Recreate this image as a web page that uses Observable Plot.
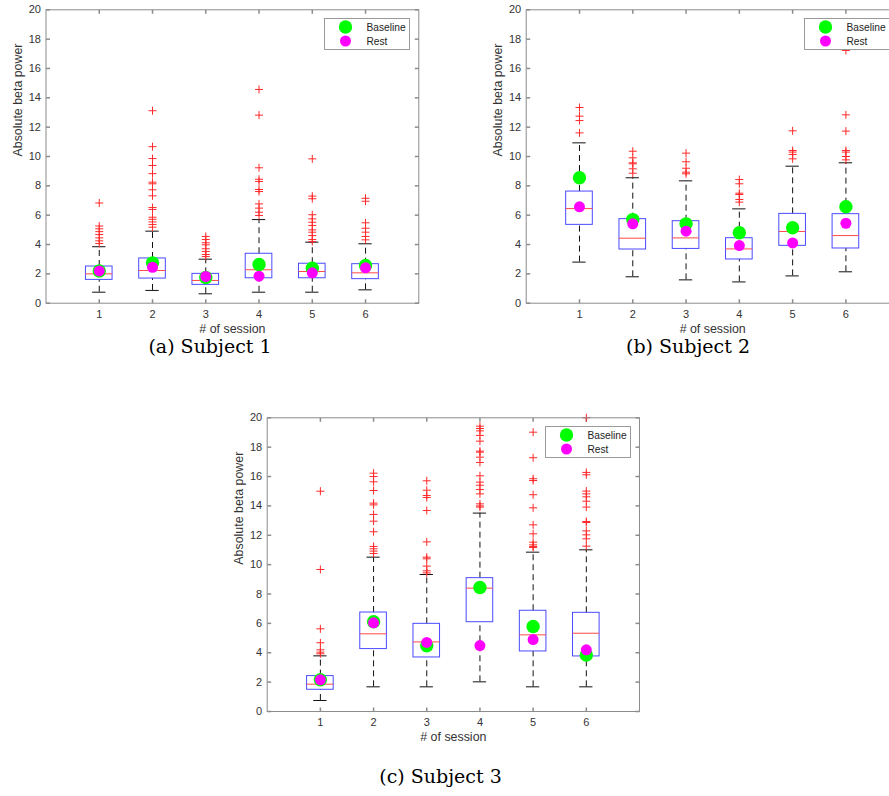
<!DOCTYPE html>
<html>
<head>
<meta charset="utf-8">
<script src="https://cdn.jsdelivr.net/npm/d3@7"></script>
<script src="https://cdn.jsdelivr.net/npm/@observablehq/plot@0.6"></script>
<style>
  html, body { margin: 0; padding: 0; background: #fff; overflow: hidden; }
  #page { position: relative; width: 889px; height: 796px; overflow: hidden; }
  .panel { position: absolute; width: 440px; height: 340px; }
  .panel svg { max-width: none !important; display: block; }
  .caption { position: absolute; font-family: "DejaVu Serif", serif; font-size: 19px; color: #000; white-space: nowrap; transform: translate(-50%, -50%); }
  .legend { position: absolute; width: 84px; height: 30px; border: 1px solid #9a9a9a; background: #fff; }
</style>
</head>
<body>
<div id="page"></div>
<script>
// ---------- data ----------
const sessions = [1, 2, 3, 4, 5, 6];
const yTicks = [0, 2, 4, 6, 8, 10, 12, 14, 16, 18, 20];
const legendLabels = ["Baseline", "Rest"];
const xLabel = "# of session";
const yLabel = "Absolute beta power";

// Subject 1
const s1Q1 = [1.59, 1.68, 1.25, 1.70, 1.70, 1.64];
const s1Median = [2.00, 2.23, 1.55, 2.28, 2.16, 2.07];
const s1Q3 = [2.50, 3.05, 2.00, 3.37, 2.69, 2.66];
const s1WhiskerLow = [0.75, 0.87, 0.64, 0.75, 0.75, 0.91];
const s1WhiskerHigh = [3.85, 4.91, 3.00, 5.70, 4.16, 4.05];
const s1Outliers = [
  [6.83, 5.26, 5.07, 4.88, 4.68, 4.45, 4.25, 4.07],
  [13.12, 10.67, 9.86, 9.39, 8.83, 8.25, 8.14, 7.73, 7.32, 6.52, 6.39, 5.86, 5.72, 5.54, 5.36, 5.18],
  [4.55, 4.34, 4.12, 3.98, 3.71, 3.52, 3.32, 3.18],
  [14.57, 12.82, 9.23, 8.45, 8.30, 7.75, 7.61, 6.77, 6.48, 6.20, 5.98],
  [9.84, 7.30, 7.12, 6.03, 5.75, 5.52, 5.30, 5.00, 4.84, 4.61, 4.34, 4.20],
  [7.15, 6.95, 5.48, 5.11, 4.84, 4.55, 4.32]
];
const s1Baseline = [2.20, 2.75, 1.75, 2.64, 2.39, 2.57];
const s1Rest = [2.20, 2.45, 1.82, 1.84, 2.07, 2.41];

// Subject 2
const s2Q1 = [5.34, 3.66, 3.70, 2.98, 3.91, 3.73];
const s2Median = [6.45, 4.43, 4.45, 3.70, 4.89, 4.61];
const s2Q3 = [7.61, 5.73, 5.59, 4.43, 6.09, 6.07];
const s2WhiskerLow = [2.80, 1.80, 1.59, 1.45, 1.86, 2.14];
const s2WhiskerHigh = [10.93, 8.55, 8.34, 6.43, 9.34, 9.57];
const s2Outliers = [
  [13.34, 12.75, 12.45, 11.61],
  [10.36, 9.91, 9.57, 9.50, 9.16, 8.86],
  [10.23, 9.64, 9.20, 8.93, 8.82],
  [8.43, 8.14, 7.50, 7.41, 7.07, 6.89],
  [11.75, 10.41, 10.30, 10.14, 9.84],
  [17.23, 12.84, 11.73, 10.41, 10.30, 10.00, 9.77]
];
const s2Baseline = [8.55, 5.70, 5.41, 4.80, 5.14, 6.57];
const s2Rest = [6.57, 5.41, 4.91, 3.93, 4.11, 5.45];

// Subject 3
const s3Q1 = [1.48, 4.25, 3.68, 6.08, 4.09, 3.75];
const s3Median = [1.86, 5.29, 4.74, 8.40, 5.22, 5.33];
const s3Q3 = [2.41, 6.74, 5.97, 9.08, 6.86, 6.72];
const s3WhiskerLow = [0.75, 1.68, 1.68, 2.02, 1.68, 1.68];
const s3WhiskerHigh = [3.79, 10.51, 9.33, 13.51, 10.85, 11.01];
const s3Outliers = [
  [15.00, 9.67, 5.63, 4.68, 4.20, 4.04, 3.93],
  [16.23, 16.00, 15.64, 15.05, 14.19, 14.07, 13.42, 12.96, 12.24, 11.24, 11.08, 10.92, 10.76],
  [15.71, 15.07, 14.71, 14.57, 13.69, 11.55, 10.51, 10.40, 9.90, 9.58, 9.44],
  [19.43, 19.27, 19.11, 18.80, 18.41, 17.73, 17.66, 17.32, 16.96, 16.05, 15.62, 15.41, 15.12, 14.82, 14.14, 14.00, 13.92],
  [19.02, 17.28, 15.85, 15.73, 14.76, 13.87, 12.71, 12.10, 11.53, 11.35, 11.24, 11.17],
  [20.00, 16.28, 16.12, 15.01, 14.82, 14.62, 14.32, 13.92, 12.94, 12.87, 12.30, 12.03, 11.76, 11.26]
];
const s3Baseline = [2.16, 6.11, 4.47, 8.44, 5.79, 3.84];
const s3Rest = [2.16, 6.04, 4.70, 4.49, 4.90, 4.20];

const captions = ["(a) Subject 1", "(b) Subject 2", "(c) Subject 3"];

// ---------- styles ----------
const AX = "#8c8c8c";
const TXT = "#333333";
const BOX = "#4a4aff";
const MED = "#ff4a4a";
const OUT = "#ff2a2a";
const GREEN = "#00ff00";
const MAGENTA = "#ff00ff";

const plusSym = { draw(ctx, size) { const r = Math.sqrt(size / Math.PI); ctx.moveTo(-r, 0); ctx.lineTo(r, 0); ctx.moveTo(0, -r); ctx.lineTo(0, r); } };
const tickSym = (dx, dy) => ({ draw(ctx) { ctx.moveTo(0, 0); ctx.lineTo(dx, dy); } });

function panel(q1, med, q3, wlo, whi, outs, base, rest, opts) {
  const rows = sessions.map((s, i) => ({ s, q1: q1[i], med: med[i], q3: q3[i], wlo: wlo[i], whi: whi[i], base: base[i], rest: rest[i] }));
  const outl = sessions.flatMap((s, i) => outs[i].map(v => ({ s, v })));
  return Plot.plot({
    width: opts.width, height: opts.height,
    marginLeft: opts.ml, marginRight: opts.mr, marginTop: opts.mt, marginBottom: opts.mb,
    style: { fontFamily: "'Liberation Sans', Arial, sans-serif", fontSize: "11px", color: TXT, background: "transparent", overflow: "visible", maxWidth: "none" },
    x: { domain: [0, 7] },
    y: { domain: [0, 20] },
    marks: [
      Plot.axisY(yTicks, { tickSize: 0, tickPadding: 5, label: null, fontSize: 11 }),
      Plot.axisX(sessions, { tickSize: 0, tickPadding: 7, label: null, fontSize: 11 }),
      Plot.dot(yTicks, { y: d => d, frameAnchor: "left", symbol: tickSym(4, 0), stroke: AX, fill: "none" }),
      Plot.dot(yTicks, { y: d => d, frameAnchor: "right", symbol: tickSym(-4, 0), stroke: AX, fill: "none" }),
      Plot.dot(sessions, { x: d => d, frameAnchor: "bottom", symbol: tickSym(0, -4), stroke: AX, fill: "none" }),
      Plot.dot(sessions, { x: d => d, frameAnchor: "top", symbol: tickSym(0, 4), stroke: AX, fill: "none" }),
      Plot.ruleX(rows, { x: "s", y1: "q3", y2: "whi", stroke: "#111", strokeDasharray: "6,4" }),
      Plot.ruleX(rows, { x: "s", y1: "wlo", y2: "q1", stroke: "#111", strokeDasharray: "6,4" }),
      Plot.ruleY(rows, { y: "whi", x1: d => d.s - 0.125, x2: d => d.s + 0.125, stroke: "#111" }),
      Plot.ruleY(rows, { y: "wlo", x1: d => d.s - 0.125, x2: d => d.s + 0.125, stroke: "#111" }),
      Plot.rect(rows, { x1: d => d.s - 0.25, x2: d => d.s + 0.25, y1: "q1", y2: "q3", fill: "none", stroke: BOX }),
      Plot.ruleY(rows, { y: "med", x1: d => d.s - 0.25, x2: d => d.s + 0.25, stroke: MED }),
      Plot.dot(outl, { x: "s", y: "v", symbol: plusSym, r: 4, stroke: OUT, fill: "none", strokeWidth: 1 }),
      Plot.dot(rows, { x: "s", y: "base", r: 6.7, fill: GREEN }),
      Plot.dot(rows, { x: "s", y: "rest", r: 5.5, fill: MAGENTA }),
      Plot.frame({ stroke: AX }),
      Plot.text([xLabel], { frameAnchor: "bottom", dy: 29.3, text: d => d, fontSize: 12.4, fill: TXT }),
      Plot.text([yLabel], { frameAnchor: "left", dx: -28.3, rotate: -90, text: d => d, fontSize: 12.4, fill: TXT })
    ]
  });
}

function addLegend(page, left, top) {
  const div = document.createElement("div");
  div.className = "legend";
  div.style.left = left + "px";
  div.style.top = top + "px";
  const svg = d3.create("svg").attr("width", 84).attr("height", 30).style("display", "block");
  const colors = [GREEN, MAGENTA];
  const radii = [6.7, 5.5];
  legendLabels.forEach((lab, i) => {
    const cy = 8 + i * 14;
    svg.append("circle").attr("cx", 20.5).attr("cy", cy).attr("r", radii[i]).attr("fill", colors[i]);
    svg.append("text").attr("x", 41.5).attr("y", cy).attr("dy", "0.35em")
      .attr("font-family", "'Liberation Sans', Arial, sans-serif").attr("font-size", 10.2).attr("fill", "#222").text(lab);
  });
  div.appendChild(svg.node());
  page.appendChild(div);
}

function addCaption(page, text, cx, cy) {
  const d = document.createElement("div");
  d.className = "caption";
  d.textContent = text;
  d.style.left = cx + "px";
  d.style.top = cy + "px";
  page.appendChild(d);
}

const page = document.getElementById("page");

function place(node, left, top) {
  const wrap = document.createElement("div");
  wrap.className = "panel";
  wrap.style.left = left + "px";
  wrap.style.top = top + "px";
  wrap.appendChild(node);
  page.appendChild(wrap);
}

// (a)
place(panel(s1Q1, s1Median, s1Q3, s1WhiskerLow, s1WhiskerHigh, s1Outliers, s1Baseline, s1Rest,
  { width: 440, height: 340, ml: 45.5, mr: 21.7, mt: 9.3, mb: 37.3 }), 0, 0);
// (b)
place(panel(s2Q1, s2Median, s2Q3, s2WhiskerLow, s2WhiskerHigh, s2Outliers, s2Baseline, s2Rest,
  { width: 440, height: 340, ml: 45.7, mr: 21.3, mt: 9.3, mb: 37.3 }), 480, 0);
// (c)
place(panel(s3Q1, s3Median, s3Q3, s3WhiskerLow, s3WhiskerHigh, s3Outliers, s3Baseline, s3Rest,
  { width: 440, height: 340, ml: 45.7, mr: 22, mt: 9.3, mb: 37 }), 221, 408);

addLegend(page, 324.3, 17.7);
addLegend(page, 804.3, 17.7);
addLegend(page, 545.3, 426);

addCaption(page, captions[0], 210, 346);
addCaption(page, captions[1], 688, 346);
addCaption(page, captions[2], 440.5, 776);
</script>
</body>
</html>
